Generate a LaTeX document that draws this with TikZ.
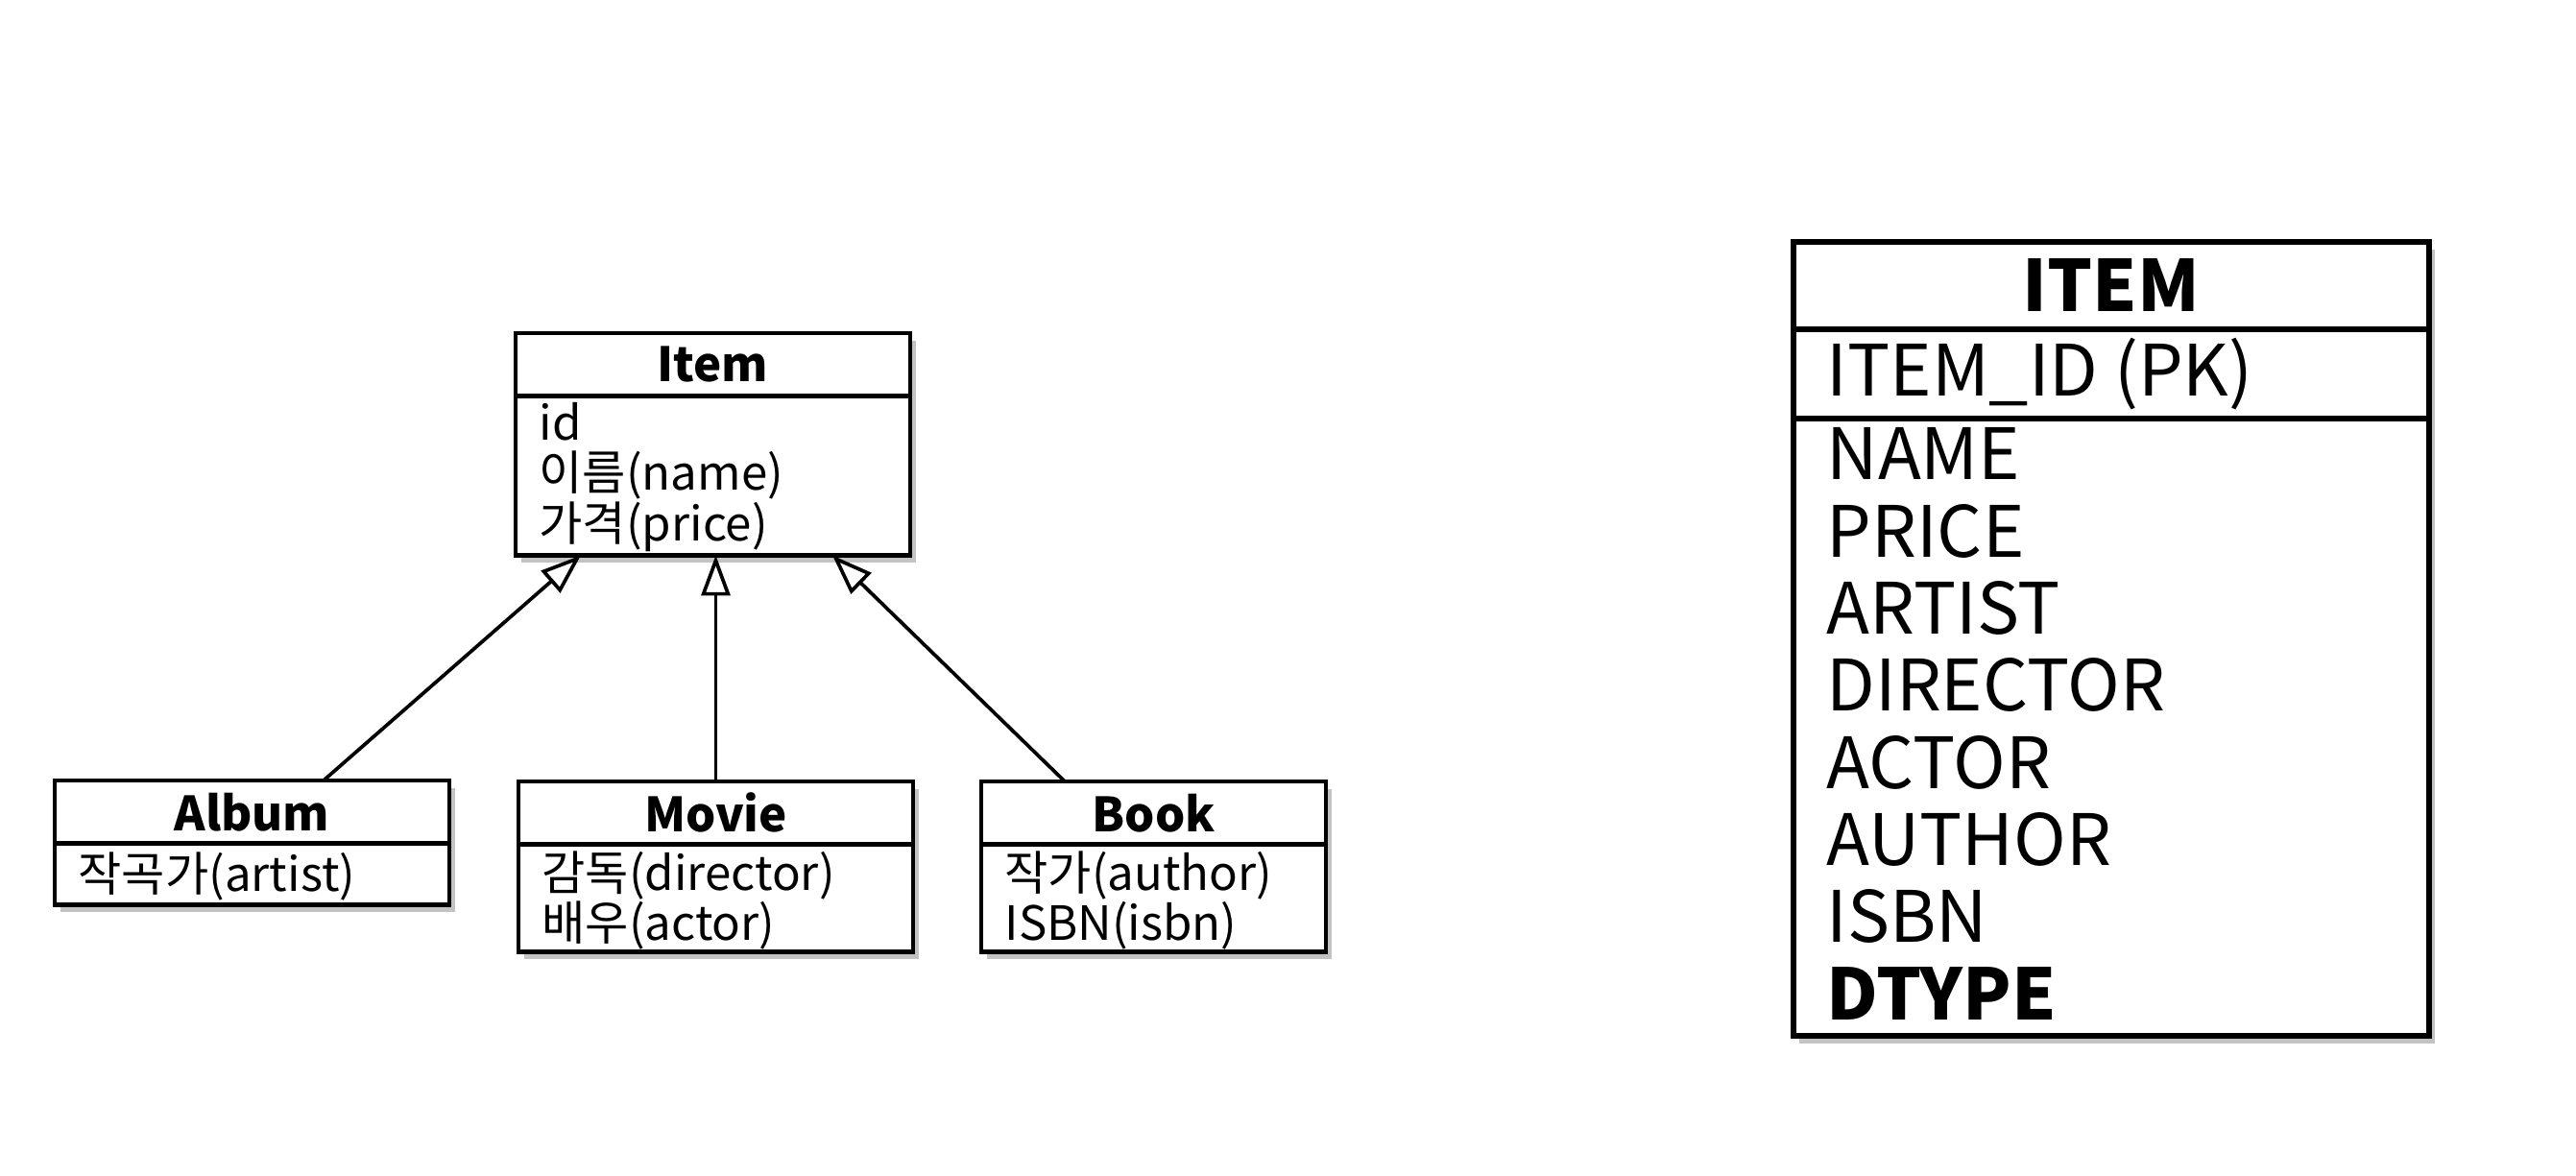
\documentclass[tikz,border=0pt]{standalone}
\usepackage{fontspec}
\setmainfont{Noto Sans CJK KR}
\usepackage{tikz}
\usetikzlibrary{arrows.meta,positioning,shadows}
\definecolor{ShadowGray}{HTML}{7A7A7A}

\tikzset{
	boxshadow/.style={drop shadow={shadow xshift=0.6mm, shadow yshift=-0.8mm, fill=ShadowGray, opacity=0.45}},
	classhead/.style={draw, fill=white, boxshadow, line width=1.15pt, inner sep=0pt, outer sep=0pt, anchor=north west, minimum height=6.55mm, font=\bfseries\fontsize{14}{16}\selectfont},
	classbody/.style={draw, fill=white, boxshadow, line width=1.15pt, inner sep=0pt, outer sep=0pt},
	field/.style={anchor=base west, inner sep=0pt, font=\fontsize{14}{16}\selectfont},
	isa/.style={-{Triangle[open, length=4.2mm, width=3mm]}, line width=1.05pt},
	tablebox/.style={draw, fill=white, boxshadow, line width=1.6pt, inner sep=0pt, outer sep=0pt, minimum width=66.2mm},
	column/.style={anchor=base west, inner sep=0pt, font=\fontsize{21}{24}\selectfont}
}

\begin{document}
\begin{tikzpicture}
	\path[use as bounding box, fill=white] (0,0) rectangle (26.83,-12.25);

	% class diagram
	\node[classhead, minimum width=41.1mm] (itemhead) at (5.37,-3.47) {Item};
	\node[classbody, minimum width=41.1mm, minimum height=16.6mm, below=0pt of itemhead] (itembody) {};
	\foreach \fld [count=\i from 0] in {id, 이름(name), 가격(price)}
		\node[field] (itemf\i) at ([xshift=2.4mm, yshift=-4.6mm-\i*5.25mm]itembody.north west) {\fld};

	\node[classhead, minimum width=41.1mm] (albumhead) at (0.57,-8.13) {Album};
	\node[classbody, minimum width=41.1mm, minimum height=6.4mm, below=0pt of albumhead] (albumbody) {};
	\node[field] (albumf0) at ([xshift=2.4mm, yshift=-5mm]albumbody.north west) {작곡가(artist)};

	\node[classhead, minimum width=41.1mm] (moviehead) at (5.40,-8.14) {Movie};
	\node[classbody, minimum width=41.1mm, minimum height=11.2mm, below=0pt of moviehead] (moviebody) {};
	\foreach \fld [count=\i from 0] in {감독(director), 배우(actor)}
		\node[field] (movief\i) at ([xshift=2.4mm, yshift=-4.8mm-\i*5.2mm]moviebody.north west) {\fld};

	\node[classhead, minimum width=35.9mm] (bookhead) at (10.22,-8.14) {Book};
	\node[classbody, minimum width=35.9mm, minimum height=11.2mm, below=0pt of bookhead] (bookbody) {};
	\foreach \fld [count=\i from 0] in {작가(author), ISBN(isbn)}
		\node[field] (bookf\i) at ([xshift=2.4mm, yshift=-4.8mm-\i*5.2mm]bookbody.north west) {\fld};

	\draw[isa] ([xshift=7.45mm]albumhead.north) -- ([xshift=-13.75mm]itembody.south);
	\draw[isa] (moviehead.north) -- (moviehead.north |- itembody.south);
	\draw[isa] ([xshift=-9.25mm]bookhead.north) -- ([xshift=12.45mm]itembody.south);

	% table
	\node[tablebox, anchor=north west, minimum height=9.1mm, font=\bfseries\fontsize{21}{24}\selectfont] (tablehead) at (18.68,-2.52) {ITEM};
	\node[tablebox, minimum height=9.3mm, below=0pt of tablehead] (tablepk) {};
	\node[tablebox, minimum height=64.3mm, below=0pt of tablepk] (tablecols) {};
	\node[column] (pkcol) at ([xshift=3.4mm, yshift=-7mm]tablepk.north west) {ITEM\_ID (PK)};
	\foreach \col [count=\i from 0] in {NAME, PRICE, ARTIST, DIRECTOR, ACTOR, AUTHOR, ISBN, \textbf{DTYPE}}
		\node[column] (col\i) at ([xshift=3.4mm, yshift=-6.4mm-\i*8.03mm]tablecols.north west) {\col};
\end{tikzpicture}
\end{document}
